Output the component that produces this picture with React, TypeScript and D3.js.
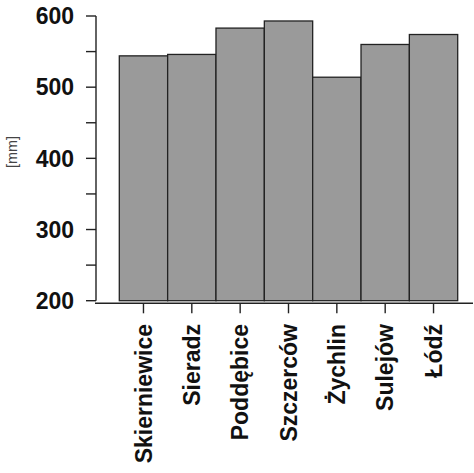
import React from "react";
import * as d3 from "d3";

const categories = ["Skierniewice", "Sieradz", "Poddębice", "Szczerców", "Żychlin", "Sulejów", "Łódź"];
const values = [544, 546, 583, 593, 514, 560, 574];
const yTickLabels = [200, 300, 400, 500, 600];
const yMinorTicks = [250, 350, 450, 550];
const yLabel = "[mm]";

const W = 474;
const H = 473;

export default function App() {
  const y = d3.scaleLinear().domain([200, 600]).range([300.7, 16]);
  const x = d3.scaleBand<string>().domain(categories).range([119.3, 457.7]).padding(0);
  const axisX = 96;
  const axisY = 303.3;
  const font = "'Liberation Sans', Arial, sans-serif";
  const allTicks = [...yTickLabels, ...yMinorTicks];

  return (
    <svg width={W} height={H} style={{ position: "absolute", left: 0, top: 0, background: "#fff" }}>
      <rect x={0} y={0} width={W} height={H} fill="#fff" />
      {categories.map((c, i) => (
        <rect
          key={c}
          x={x(c)}
          y={y(values[i])}
          width={x.bandwidth()}
          height={y(200) - y(values[i])}
          fill="#9a9a9a"
          stroke="#222"
          strokeWidth={1.3}
        />
      ))}
      {/* y axis */}
      <line x1={axisX} x2={axisX} y1={y(600)} y2={y(200)} stroke="#222" strokeWidth={1.4} />
      {allTicks.map((t) => (
        <line key={t} x1={axisX - 10} x2={axisX} y1={y(t)} y2={y(t)} stroke="#222" strokeWidth={1.4} />
      ))}
      {yTickLabels.map((t) => (
        <text
          key={t}
          x={74}
          y={y(t)}
          dy="0.36em"
          textAnchor="end"
          fontFamily={font}
          fontWeight="bold"
          fontSize={23}
          fill="#111"
        >
          {t}
        </text>
      ))}
      <text
        transform={`translate(17,152) rotate(-90)`}
        textAnchor="middle"
        fontFamily={font}
        fontSize={14.5}
        fill="#444"
      >
        {yLabel}
      </text>
      {/* x axis */}
      <line x1={95} x2={473} y1={axisY} y2={axisY} stroke="#222" strokeWidth={1.4} />
      {categories.map((c) => {
        const cx = (x(c) as number) + x.bandwidth() / 2;
        return (
          <g key={c}>
            <line x1={cx} x2={cx} y1={axisY} y2={axisY + 10} stroke="#222" strokeWidth={1.4} />
            <text
              transform={`translate(${cx},${324}) rotate(-90)`}
              dy="0.36em"
              textAnchor="end"
              fontFamily={font}
              fontWeight="bold"
              fontSize={23}
              fill="#111"
            >
              {c}
            </text>
          </g>
        );
      })}
    </svg>
  );
}
